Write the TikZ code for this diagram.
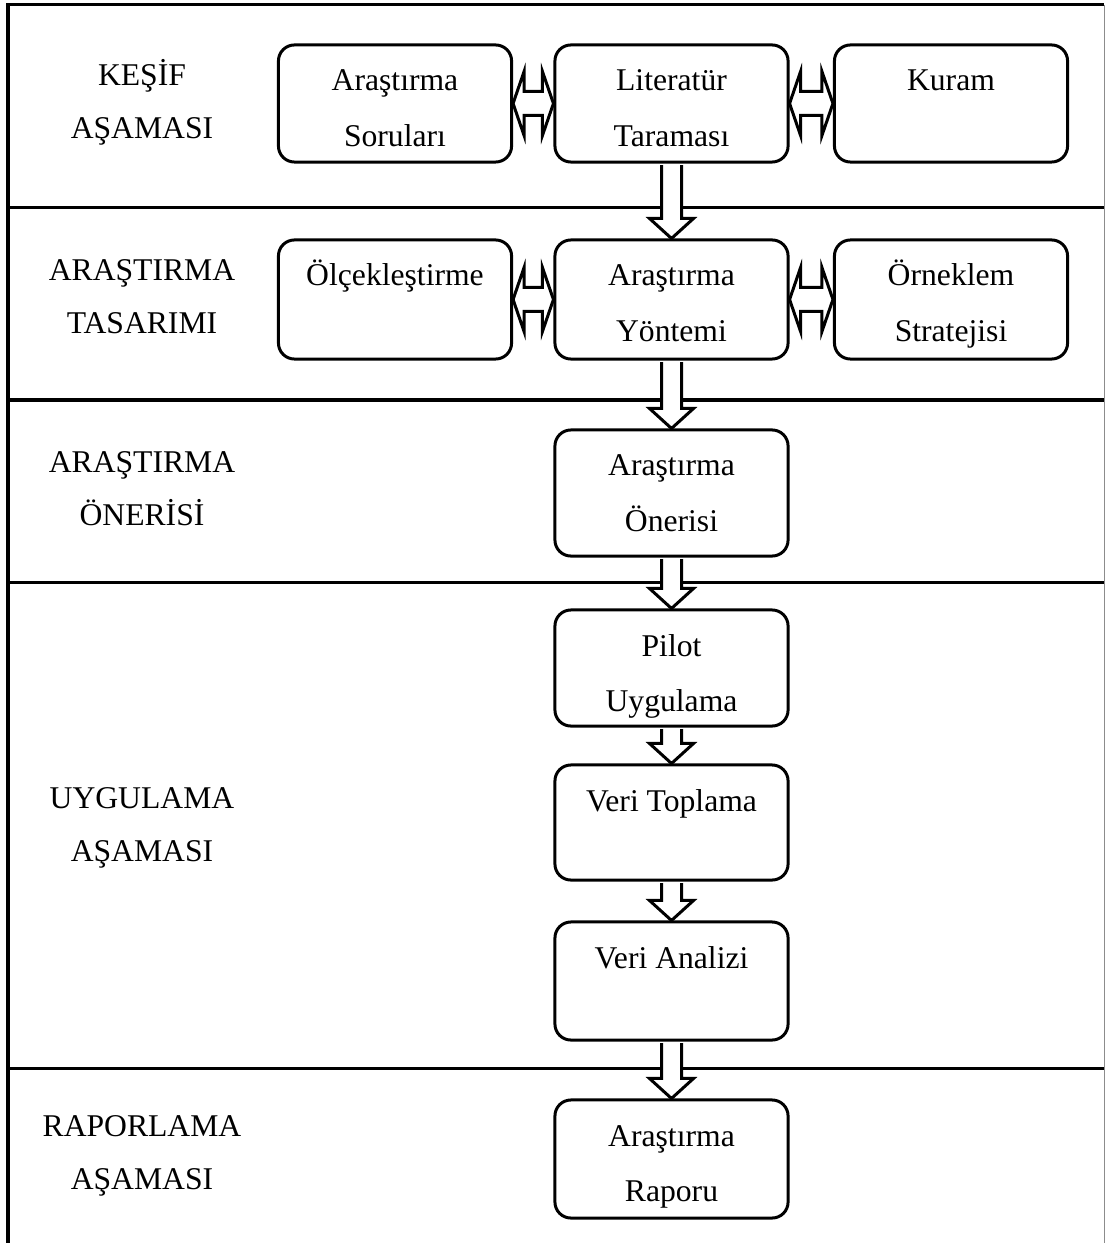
\documentclass[tikz,border=0pt]{standalone}
\usepackage{fontspec}
\setmainfont{Liberation Serif}
\usetikzlibrary{calc}
\tikzset{
  kutu/.style={draw=black, line width=0.03cm, rounded corners=0.16cm, inner sep=0pt,
    fill=white, font=\fontsize{9}{15.65}\selectfont},
  asama/.style={anchor=north, align=center, inner sep=0pt, font=\fontsize{9}{15.07}\selectfont},
  cizgi/.style={line width=0.03cm, black},
  okok/.style={draw=black, line width=0.03cm, fill=white},
}
\newcommand{\kutuyazi}[2]{\parbox[c][#1][t]{2.33cm}{\centering\rule{0pt}{0.46cm}#2}}

\begin{document}
\begin{tikzpicture}[x=0.01cm, y=-0.01cm]
  \useasboundingbox (0,0) rectangle (1106,1243);
  % Rahmen und Trennlinien
  \draw[cizgi] (8,1243) -- (8,5) -- (1104,5);
  \draw[black!45, line width=0.01cm] (1104,5) -- (1104,1243);
  \foreach \y in {208,400,582,1068}{
    \draw[cizgi] (8,\y) -- (1104,\y);
  }

  % Aşamalar
  \node[asama] (kesif) at (142,55) {\rule{0pt}{0.30cm}KEŞİF\\AŞAMASI};
  \node[asama] (tasarim) at (142,250) {\rule{0pt}{0.30cm}ARAŞTIRMA\\TASARIMI};
  \node[asama] (onerisi) at (142,442) {\rule{0pt}{0.30cm}ARAŞTIRMA\\ÖNERİSİ};
  \node[asama] (uygulama) at (142,778) {\rule{0pt}{0.30cm}UYGULAMA\\AŞAMASI};
  \node[asama] (raporlama) at (142,1106) {\rule{0pt}{0.30cm}RAPORLAMA\\AŞAMASI};

  % Kutular
  \node[kutu] (soru) at (395,103.5) {\kutuyazi{1.17cm}{Araştırma\\Soruları}};
  \node[kutu] (lit) at (671.5,103.5) {\kutuyazi{1.17cm}{Literatür\\Taraması}};
  \node[kutu] (kuram) at (951,103.5) {\kutuyazi{1.17cm}{Kuram}};
  \node[kutu] (olcek) at (395,299.5) {\kutuyazi{1.19cm}{Ölçekleştirme}};
  \node[kutu] (yontem) at (671.5,299.5) {\kutuyazi{1.19cm}{Araştırma\\Yöntemi}};
  \node[kutu] (orneklem) at (951,299.5) {\kutuyazi{1.19cm}{Örneklem\\Stratejisi}};
  \node[kutu] (oneri) at (671.5,493) {\kutuyazi{1.26cm}{Araştırma\\Önerisi}};
  \node[kutu] (pilot) at (671.5,668) {\kutuyazi{1.16cm}{Pilot\\Uygulama}};
  \node[kutu] (toplama) at (671.5,822.5) {\kutuyazi{1.15cm}{Veri Toplama}};
  \node[kutu] (analiz) at (671.5,981) {\kutuyazi{1.18cm}{Veri Analizi}};
  \node[kutu] (rapor) at (671.5,1159) {\kutuyazi{1.18cm}{Araştırma\\Raporu}};

  % Çift yönlü oklar
  \foreach \a/\b in {soru/lit, lit/kuram, olcek/yontem, yontem/orneklem}{
    \draw[okok] (\a.east) -- ($(\a.east)+(11,-32)$) -- ($(\a.east)+(11,-12)$)
      -- ($(\b.west)+(-11,-12)$) -- ($(\b.west)+(-11,-32)$) -- (\b.west)
      -- ($(\b.west)+(-11,32)$) -- ($(\b.west)+(-11,12)$)
      -- ($(\a.east)+(11,12)$) -- ($(\a.east)+(11,32)$) -- cycle;
  }
  % Aşağı oklar
  \foreach \a/\b in {lit/yontem, yontem/oneri, oneri/pilot, pilot/toplama, toplama/analiz, analiz/rapor}{
    \draw[okok] ($(\a.south)+(-10,1.5)$) -- ($(\b.north)+(-10,-20)$) -- ($(\b.north)+(-22,-20)$)
      -- (\b.north) -- ($(\b.north)+(22,-20)$) -- ($(\b.north)+(10,-20)$) -- ($(\a.south)+(10,1.5)$);
  }
\end{tikzpicture}
\end{document}
